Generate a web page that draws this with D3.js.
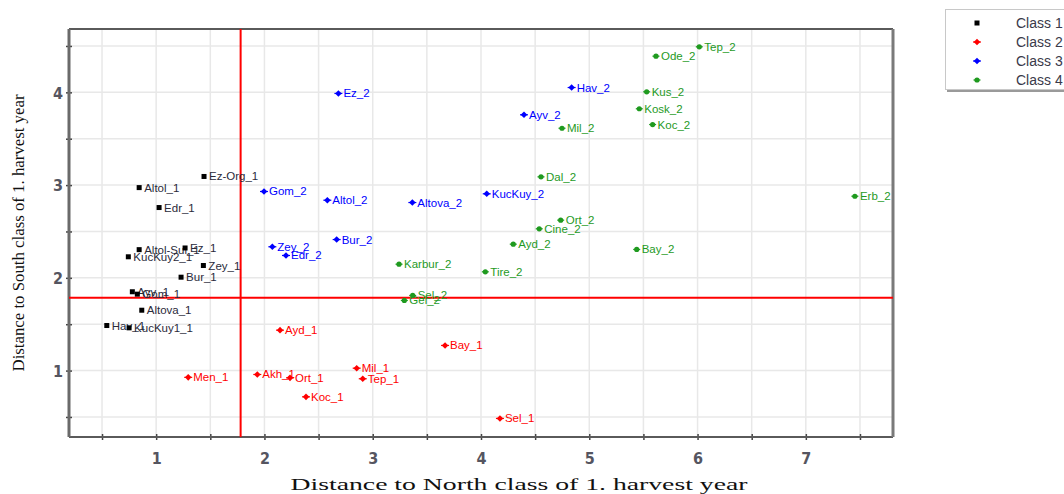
<!DOCTYPE html>
<html>
<head>
<meta charset="utf-8">
<script src="https://cdn.jsdelivr.net/npm/d3@7"></script>
<style>
  html, body { margin: 0; padding: 0; background: #fff; }
  svg { display: block; }
</style>
</head>
<body>
<svg id="chart" width="1064" height="494"></svg>
<script>
// Scores of each sample: [label, distance to North class, distance to South class]
const class1Points = [
  ["Altol_1", 0.843, 2.973], ["Edr_1", 1.027, 2.758], ["Ez-Org_1", 1.442, 3.093],
  ["Altol-Sul_1", 0.843, 2.304], ["Ez_1", 1.267, 2.322], ["KucKuy2_1", 0.743, 2.227],
  ["Zey_1", 1.436, 2.133], ["Bur_1", 1.230, 2.007], ["Ayv_1", 0.780, 1.850],
  ["Gom_1", 0.826, 1.824], ["Altova_1", 0.867, 1.651], ["Hav_1", 0.544, 1.486],
  ["KucKuy1_1", 0.750, 1.461]
];
const class2Points = [
  ["Ayd_1", 2.144, 1.436], ["Akh_1", 1.934, 0.958], ["Ort_1", 2.236, 0.922],
  ["Koc_1", 2.384, 0.717], ["Mil_1", 2.852, 1.026], ["Tep_1", 2.908, 0.912],
  ["Bay_1", 3.668, 1.271], ["Sel_1", 4.175, 0.484], ["Men_1", 1.296, 0.927]
];
const class3Points = [
  ["Ez_2", 2.683, 3.988], ["Gom_2", 1.996, 2.931], ["Altol_2", 2.581, 2.837],
  ["Altova_2", 3.366, 2.812], ["Bur_2", 2.667, 2.413], ["Zey_2", 2.073, 2.335],
  ["Edr_2", 2.199, 2.241], ["Hav_2", 4.837, 4.052], ["Ayv_2", 4.397, 3.758],
  ["KucKuy_2", 4.053, 2.906]
];
const class4Points = [
  ["Tep_2", 6.016, 4.491], ["Ode_2", 5.616, 4.390], ["Kus_2", 5.530, 4.006],
  ["Kosk_2", 5.462, 3.823], ["Koc_2", 5.585, 3.653], ["Mil_2", 4.748, 3.613],
  ["Dal_2", 4.554, 3.089], ["Ort_2", 4.736, 2.622], ["Cine_2", 4.538, 2.529],
  ["Ayd_2", 4.298, 2.363], ["Bay_2", 5.438, 2.306], ["Karbur_2", 3.243, 2.147],
  ["Tire_2", 4.040, 2.065], ["Erb_2", 7.453, 2.880], ["Sel_2", 3.369, 1.810],
  ["Gel_2", 3.292, 1.756]
];
const classNames = ["Class 1", "Class 2", "Class 3", "Class 4"];
const classColors = ["#000000", "#ff0000", "#0000ff", "#1f9a1f"];
const labelColors = ["#2a2a3a", "#ff0000", "#0000ff", "#1f9a1f"];
const xTickValues = [1, 2, 3, 4, 5, 6, 7];
const yTickValues = [1, 2, 3, 4];
const xGridValues = [0.5, 1, 1.5, 2, 2.5, 3, 3.5, 4, 4.5, 5, 5.5, 6, 6.5, 7, 7.5];
const yGridValues = [0.5, 1, 1.5, 2, 2.5, 3, 3.5, 4, 4.5];
const thresholdX = 1.78;   // class boundary on the North distance
const thresholdY = 1.785;  // class boundary on the South distance
const xTitle = "Distance to North class of 1. harvest year";
const yTitle = "Distance to South class of 1. harvest year";

const svg = d3.select("#chart");
const plot = { left: 69, right: 893, top: 29, bottom: 437 };

const x = d3.scaleLinear().domain([0.195, 7.805]).range([plot.left, plot.right]);
const y = d3.scaleLinear().domain([0.284, 4.683]).range([plot.bottom, plot.top]);

// grid
const grid = svg.append("g");
grid.selectAll("line.gx").data(xGridValues).join("line")
  .attr("x1", d => x(d)).attr("x2", d => x(d))
  .attr("y1", plot.top).attr("y2", plot.bottom)
  .attr("stroke", "#e8e8e8").attr("stroke-width", 1.5);
grid.selectAll("line.gy").data(yGridValues).join("line")
  .attr("y1", d => y(d)).attr("y2", d => y(d))
  .attr("x1", plot.left).attr("x2", plot.right)
  .attr("stroke", "#e8e8e8").attr("stroke-width", 1.5);

// axes with ticks at every half unit, labels on whole units
const tickFont = "'Liberation Sans Narrow', 'DejaVu Sans Condensed', 'Arial Narrow', sans-serif";
const xAxis = d3.axisBottom(x).tickValues(xGridValues).tickSize(3)
  .tickFormat(d => xTickValues.includes(d) ? d3.format("d")(d) : "");
const yAxis = d3.axisLeft(y).tickValues(yGridValues).tickSize(3)
  .tickFormat(d => yTickValues.includes(d) ? d3.format("d")(d) : "");

const gx = svg.append("g").attr("transform", `translate(0,${plot.bottom})`).call(xAxis);
gx.select(".domain").remove();
gx.selectAll(".tick line").attr("y1", -3).attr("y2", 3).attr("stroke", "#444").attr("stroke-width", 1.5);
gx.selectAll(".tick text").attr("y", 27).attr("dy", 0)
  .attr("font-family", tickFont).attr("font-size", 16).attr("font-weight", "bold").attr("fill", "#555560");

const gy = svg.append("g").attr("transform", `translate(${plot.left},0)`).call(yAxis);
gy.select(".domain").remove();
gy.selectAll(".tick line").attr("x1", -3).attr("x2", 3).attr("stroke", "#444").attr("stroke-width", 1.5);
gy.selectAll(".tick text").attr("x", -6).attr("dy", "0.36em")
  .attr("font-family", tickFont).attr("font-size", 16).attr("font-weight", "bold").attr("fill", "#555560");

// frame
svg.append("line").attr("x1", plot.left).attr("x2", plot.right).attr("y1", plot.top).attr("y2", plot.top)
  .attr("stroke", "#5a5a5a").attr("stroke-width", 2);
svg.append("line").attr("x1", plot.left).attr("x2", plot.right).attr("y1", plot.bottom).attr("y2", plot.bottom)
  .attr("stroke", "#5a5a5a").attr("stroke-width", 2);
svg.append("line").attr("x1", plot.left).attr("x2", plot.left).attr("y1", plot.top).attr("y2", plot.bottom)
  .attr("stroke", "#6a6a6a").attr("stroke-width", 3);
svg.append("line").attr("x1", plot.right).attr("x2", plot.right).attr("y1", plot.top).attr("y2", plot.bottom)
  .attr("stroke", "#7a7a7a").attr("stroke-width", 3);

// class boundaries
svg.append("line").attr("x1", x(thresholdX)).attr("x2", x(thresholdX))
  .attr("y1", plot.top).attr("y2", plot.bottom)
  .attr("stroke", "#ff0000").attr("stroke-width", 2);
svg.append("line").attr("x1", plot.left).attr("x2", plot.right)
  .attr("y1", y(thresholdY)).attr("y2", y(thresholdY))
  .attr("stroke", "#ff0000").attr("stroke-width", 2);

// markers
function drawMarker(g, cls, cx, cy) {
  const c = classColors[cls];
  if (cls === 0) {
    g.append("rect").attr("x", cx - 2.5).attr("y", cy - 2.5).attr("width", 5).attr("height", 5).attr("fill", c);
  } else if (cls === 3) {
    g.append("circle").attr("cx", cx).attr("cy", cy).attr("r", 2.6).attr("fill", c);
    g.append("line").attr("x1", cx - 3.5).attr("x2", cx + 3.5).attr("y1", cy).attr("y2", cy)
      .attr("stroke", c).attr("stroke-width", 1.2);
  } else {
    g.append("path").attr("d", `M${cx},${cy - 3.3}L${cx + 3.3},${cy}L${cx},${cy + 3.3}L${cx - 3.3},${cy}Z`)
      .attr("fill", c);
    g.append("line").attr("x1", cx - 4).attr("x2", cx + 4).attr("y1", cy).attr("y2", cy)
      .attr("stroke", c).attr("stroke-width", 1.2);
  }
}

const allClasses = [class1Points, class2Points, class3Points, class4Points];
const pts = svg.append("g");
allClasses.forEach((points, cls) => {
  points.forEach(([label, vx, vy]) => {
    const cx = x(vx), cy = y(vy);
    pts.append("text").attr("x", cx + 5).attr("y", cy + 4)
      .attr("font-family", "'Liberation Sans', Arial, sans-serif").attr("font-size", 11.5)
      .attr("fill", labelColors[cls]).text(label);
    drawMarker(pts, cls, cx, cy);
  });
});

// axis titles
svg.append("text").attr("x", 519).attr("y", 490).attr("text-anchor", "middle")
  .attr("font-family", "'Liberation Serif', 'Times New Roman', serif").attr("font-size", 17)
  .attr("textLength", 457).attr("lengthAdjust", "spacingAndGlyphs")
  .attr("fill", "#111").text(xTitle);
svg.append("text").attr("transform", "translate(24,233) rotate(-90)").attr("text-anchor", "middle")
  .attr("font-family", "'Liberation Serif', 'Times New Roman', serif").attr("font-size", 17)
  .attr("textLength", 277).attr("lengthAdjust", "spacingAndGlyphs")
  .attr("fill", "#111").text(yTitle);

// legend
const legend = svg.append("g");
legend.append("rect").attr("x", 947).attr("y", 12).attr("width", 130).attr("height", 80).attr("fill", "#9a9a9a");
legend.append("rect").attr("x", 945.5).attr("y", 9.5).attr("width", 130).attr("height", 80)
  .attr("fill", "#fff").attr("stroke", "#c8c8c8").attr("stroke-width", 1);
classNames.forEach((name, i) => {
  const ly = 23 + i * 19;
  drawMarker(legend, i, 977, ly);
  legend.append("text").attr("x", 1016).attr("y", ly + 5)
    .attr("font-family", "'Liberation Sans', Arial, sans-serif").attr("font-size", 14)
    .attr("fill", "#3a3a4a").text(name);
});
</script>
</body>
</html>
